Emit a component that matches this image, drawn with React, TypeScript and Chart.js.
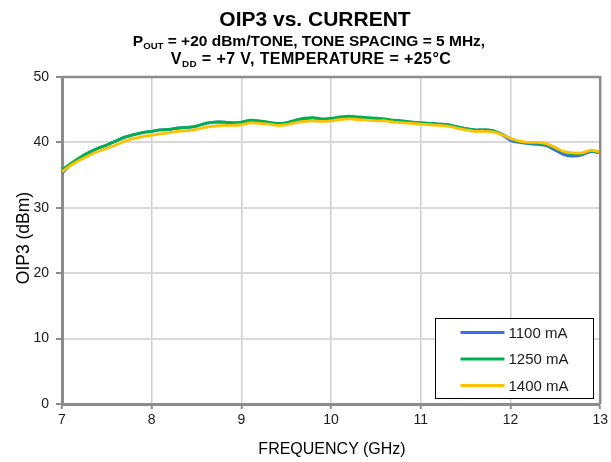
import React, { useEffect, useRef } from "react";
import { Chart, registerables } from "chart.js";

Chart.register(...registerables);

const frequencyGHz = [
  7.0, 7.1, 7.2, 7.3, 7.4, 7.5, 7.6, 7.7, 7.8, 7.9,
  8.0, 8.1, 8.2, 8.3, 8.4, 8.5, 8.6, 8.7, 8.8, 8.9,
  9.0, 9.1, 9.2, 9.3, 9.4, 9.5, 9.6, 9.7, 9.8, 9.9,
  10.0, 10.1, 10.2, 10.3, 10.4, 10.5, 10.6, 10.7, 10.8, 10.9,
  11.0, 11.1, 11.2, 11.3, 11.4, 11.5, 11.6, 11.7, 11.8, 11.9,
  12.0, 12.1, 12.2, 12.3, 12.4, 12.5, 12.6, 12.7, 12.8, 12.9,
  13.0,
];

const oip3_1100mA = [
  35.3, 36.6, 37.6, 38.4, 39.1, 39.6, 40.2, 40.8, 41.2, 41.5,
  41.7, 41.9, 42.0, 42.2, 42.3, 42.5, 42.9, 43.1, 43.1, 43.0,
  43.0, 43.3, 43.2, 43.0, 42.9, 43.0, 43.3, 43.6, 43.7, 43.5,
  43.6, 43.8, 43.9, 43.8, 43.7, 43.6, 43.5, 43.3, 43.2, 43.1,
  43.0, 42.9, 42.8, 42.7, 42.4, 42.1, 41.9, 41.9, 41.8, 41.2,
  40.3, 40.0, 39.8, 39.7, 39.5, 38.8, 38.1, 37.9, 38.1, 38.6,
  38.4,
];

const oip3_1250mA = [
  35.8, 36.8, 37.7, 38.5, 39.1, 39.6, 40.2, 40.8, 41.2, 41.5,
  41.7, 41.9, 42.0, 42.2, 42.3, 42.5, 42.9, 43.1, 43.1, 43.0,
  43.1, 43.4, 43.3, 43.1, 42.9, 43.0, 43.4, 43.7, 43.8, 43.6,
  43.7, 43.9, 44.0, 43.9, 43.8, 43.7, 43.6, 43.4, 43.3, 43.1,
  43.0, 42.9, 42.8, 42.7, 42.4, 42.1, 41.9, 41.9, 41.8, 41.3,
  40.6, 40.1, 39.9, 39.9, 39.7, 39.1, 38.5, 38.2, 38.3, 38.7,
  38.4,
];

const oip3_1400mA = [
  35.5, 36.5, 37.3, 38.0, 38.6, 39.1, 39.6, 40.2, 40.6, 40.9,
  41.1, 41.3, 41.5, 41.7, 41.8, 42.0, 42.3, 42.5, 42.6, 42.6,
  42.7, 43.0, 42.9, 42.8, 42.6, 42.7, 43.0, 43.2, 43.3, 43.2,
  43.3, 43.5, 43.6, 43.5, 43.4, 43.3, 43.3, 43.1, 43.0, 42.9,
  42.8, 42.7, 42.6, 42.5, 42.2, 41.9, 41.7, 41.7, 41.6, 41.2,
  40.6, 40.2, 40.0, 40.0, 39.8, 39.2, 38.6, 38.4, 38.4, 38.8,
  38.5,
];

const seriesLabels = ["1100 mA", "1250 mA", "1400 mA"];
const seriesColors = ["#3b6fe8", "#00b050", "#ffc000"];
const seriesValues = [oip3_1100mA, oip3_1250mA, oip3_1400mA];

const FONT = "'Liberation Sans', Arial, Helvetica, sans-serif";

const frameAndLegend = {
  id: "frameAndLegend",
  afterDatasetsDraw(chart: any) {
    const { ctx, chartArea } = chart;
    ctx.save();
    // top and right border of the plot frame
    ctx.strokeStyle = "#8c8c8c";
    ctx.lineWidth = 2.5;
    ctx.beginPath();
    ctx.moveTo(chartArea.left, chartArea.top);
    ctx.lineTo(chartArea.right, chartArea.top);
    ctx.lineTo(chartArea.right, chartArea.bottom);
    ctx.stroke();

    // legend box
    const w = 158;
    const h = 80;
    const x0 = Math.round(chartArea.right - 7 - w) + 0.5;
    const y0 = Math.round(chartArea.bottom - 6 - h) + 0.5;
    ctx.fillStyle = "#ffffff";
    ctx.fillRect(x0, y0, w, h);
    ctx.strokeStyle = "#000000";
    ctx.lineWidth = 1;
    ctx.strokeRect(x0, y0, w, h);
    ctx.font = `15px ${FONT}`;
    ctx.textBaseline = "middle";
    ctx.textAlign = "left";
    seriesLabels.forEach((lab, i) => {
      const yy = y0 + 14 + i * 26.5;
      ctx.strokeStyle = seriesColors[i];
      ctx.lineWidth = 3;
      ctx.beginPath();
      ctx.moveTo(x0 + 25, yy);
      ctx.lineTo(x0 + 69, yy);
      ctx.stroke();
      ctx.fillStyle = "#1a1a1a";
      ctx.fillText(lab, x0 + 73, yy + 1);
    });
    ctx.restore();
  },
};

export default function App() {
  const canvasRef = useRef<HTMLCanvasElement | null>(null);

  useEffect(() => {
    const canvas = canvasRef.current;
    if (!canvas) return;
    const datasets = seriesValues.map((vals, i) => ({
      label: seriesLabels[i],
      data: frequencyGHz.map((f, j) => ({ x: f, y: vals[j] })),
      borderColor: seriesColors[i],
      backgroundColor: seriesColors[i],
      borderWidth: 2.8,
      pointRadius: 0,
      tension: 0.3,
      fill: false,
      order: 2 - i,
    }));
    const chart = new Chart(canvas, {
      type: "line",
      data: { datasets },
      options: {
        animation: false,
        responsive: false,
        maintainAspectRatio: false,
        layout: { padding: { top: 77, right: 9, left: 0, bottom: 0 } },
        plugins: {
          legend: { display: false },
          title: { display: false },
          tooltip: { enabled: false },
        },
        scales: {
          x: {
            type: "linear",
            min: 7,
            max: 13,
            afterFit: (s: any) => {
              s.height = 58;
            },
            ticks: {
              stepSize: 1,
              color: "#1a1a1a",
              font: { family: FONT, size: 14 },
              padding: 3,
              maxRotation: 0,
            },
            grid: {
              color: "#cfcfcf",
              lineWidth: 1.5,
              tickLength: 5,
              tickColor: "#8c8c8c",
              tickWidth: 2,
            },
            border: { color: "#8c8c8c", width: 3 },
          },
          y: {
            min: 0,
            max: 50,
            afterFit: (s: any) => {
              s.width = 62;
            },
            ticks: {
              stepSize: 10,
              color: "#1a1a1a",
              font: { family: FONT, size: 14 },
              padding: 7,
            },
            grid: {
              color: "#d9d9d9",
              lineWidth: 2,
              tickLength: 6,
              tickColor: "#8c8c8c",
              tickWidth: 2,
            },
            border: { color: "#8c8c8c", width: 3 },
          },
        },
      },
      plugins: [frameAndLegend],
    });
    return () => chart.destroy();
  }, []);

  const sub: React.CSSProperties = {
    fontSize: "0.62em",
    verticalAlign: "-0.28em",
    lineHeight: 0,
  };

  return (
    <div
      style={{
        position: "fixed",
        left: 0,
        top: 0,
        width: 611,
        height: 462,
        background: "#ffffff",
        fontFamily: FONT,
        color: "#000",
      }}
    >
      <canvas
        ref={canvasRef}
        width={611}
        height={462}
        style={{ position: "absolute", left: 0, top: 0, width: 611, height: 462 }}
      />
      <div
        style={{
          position: "absolute",
          left: 0,
          top: 8,
          width: 630,
          textAlign: "center",
          fontSize: 21,
          lineHeight: "21px",
          fontWeight: "bold",
          whiteSpace: "nowrap",
        }}
      >
        OIP3 vs. CURRENT
      </div>
      <div
        style={{
          position: "absolute",
          left: 0,
          top: 32,
          width: 618,
          textAlign: "center",
          fontSize: 15.5,
          lineHeight: "17px",
          fontWeight: "bold",
          whiteSpace: "nowrap",
        }}
      >
        P<span style={sub}>OUT</span> = +20 dBm/TONE, TONE SPACING = 5 MHz,
      </div>
      <div
        style={{
          position: "absolute",
          left: 0,
          top: 50,
          width: 622,
          textAlign: "center",
          fontSize: 16,
          lineHeight: "17px",
          fontWeight: "bold",
          letterSpacing: "0.4px",
          whiteSpace: "nowrap",
        }}
      >
        V<span style={sub}>DD</span> = +7 V, TEMPERATURE = +25°C
      </div>
      <div
        style={{
          position: "absolute",
          left: 0,
          top: 440,
          width: 664,
          textAlign: "center",
          fontSize: 16,
          lineHeight: "17px",
          whiteSpace: "nowrap",
        }}
      >
        FREQUENCY (GHz)
      </div>
      <div
        style={{
          position: "absolute",
          left: 23 - 100,
          top: 238 - 9,
          width: 200,
          height: 18,
          textAlign: "center",
          fontSize: 17.5,
          lineHeight: "18px",
          whiteSpace: "nowrap",
          transform: "rotate(-90deg)",
          transformOrigin: "50% 50%",
        }}
      >
        OIP3 (dBm)
      </div>
    </div>
  );
}
